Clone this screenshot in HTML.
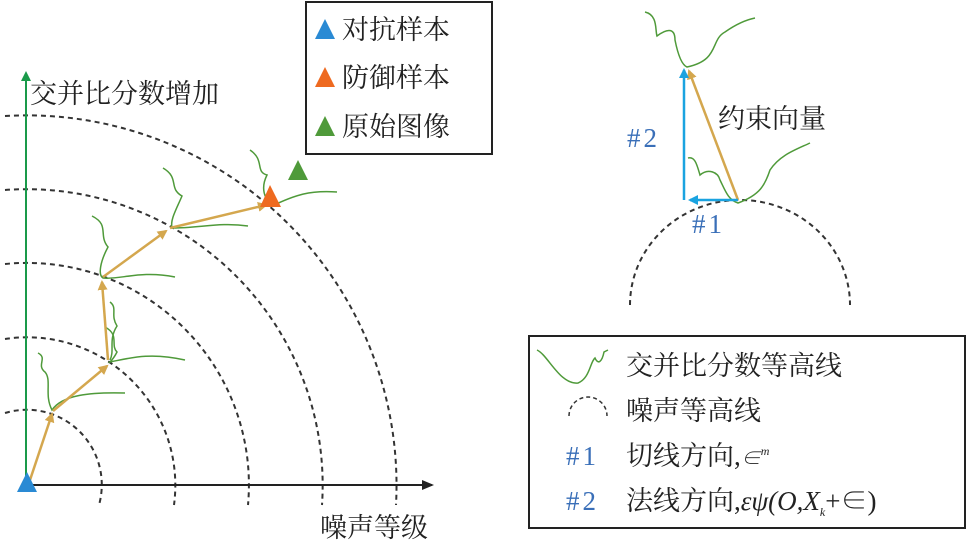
<!DOCTYPE html>
<html><head><meta charset="utf-8"><style>
html,body{margin:0;padding:0;background:#fff;}
svg{display:block;}
text{font-family:"Liberation Serif","Noto Serif CJK SC","Noto Sans CJK SC",serif;}
</style></head><body>
<svg width="971" height="546" viewBox="0 0 971 546" xmlns="http://www.w3.org/2000/svg">
<defs>
<marker id="ao" markerWidth="10" markerHeight="10" refX="8" refY="5" orient="auto" markerUnits="userSpaceOnUse"><path d="M0,0 L10,5 L0,10 z" fill="#d4a74e"/></marker>
<marker id="ab" markerWidth="10" markerHeight="10" refX="8" refY="5" orient="auto" markerUnits="userSpaceOnUse"><path d="M0,0 L10,5 L0,10 z" fill="#1aa3e0"/></marker>
<marker id="ak" markerWidth="12" markerHeight="10" refX="10" refY="5" orient="auto" markerUnits="userSpaceOnUse"><path d="M0,0 L12,5 L0,10 z" fill="#222"/></marker>
<marker id="ag" markerWidth="10" markerHeight="12" refX="5" refY="5" orient="auto" markerUnits="userSpaceOnUse"><path d="M0,0 L10,5 L0,10 z" fill="#1a9a4a"/></marker>
</defs>
<g fill="none" stroke="#333" stroke-width="2" stroke-dasharray="5,4">
<path d="M5,413 A75,75 0 0 1 99,505"/>
<path d="M5,339 A148,148 0 0 1 174,505"/>
<path d="M5,264 A222,222 0 0 1 248,505"/>
<path d="M5,190 A296,296 0 0 1 322,505"/>
<path d="M5,116 A370,370 0 0 1 396,505"/>
<path d="M630,305 A110,105 0 0 1 850,305"/>
</g>
<line x1="27" y1="485" x2="432" y2="485" stroke="#222" stroke-width="2" marker-end="url(#ak)"/>
<line x1="26" y1="485" x2="26" y2="76" stroke="#1a9a4a" stroke-width="2" marker-end="url(#ag)"/>
<g fill="none" stroke="#4f9a3a" stroke-width="1.5">
<path d="M38,353 C48,358 36,365 45,372 C52,380 44,395 52,410 C62,395 90,392 125,393"/>
<path d="M105,327 C120,335 110,345 117,352 C114,358 110,362 110,362 C130,358 150,352 185,360"/>
<path d="M110,302 C118,308 110,315 117,326 C108,340 115,350 110,360"/>
<path d="M92,216 C110,225 98,235 108,247 C100,262 98,275 103,278 C120,280 140,270 175,277"/>
<path d="M163,168 C180,178 168,188 182,196 C176,210 170,220 172,228 C200,228 220,222 248,226"/>
<path d="M250,150 C265,160 255,172 267,175 C262,185 262,196 272,206 C295,195 310,190 337,192"/>
<path d="M645,12 C658,15 655,30 657,36 C665,30 675,26 675,40 C678,55 682,65 687,67 C720,60 710,40 725,32 C735,25 745,20 755,18"/>
<path d="M688,158 C695,156 697,165 700,175 C708,168 718,172 720,180 C725,190 728,200 738,203 C760,195 765,185 770,170 C780,155 795,150 810,143"/>
</g>
<g stroke="#d4a74e" stroke-width="2.5" fill="none">
<line x1="30" y1="480" x2="52" y2="414" marker-end="url(#ao)"/>
<line x1="53" y1="411" x2="107" y2="366" marker-end="url(#ao)"/>
<line x1="108" y1="360" x2="102" y2="282" marker-end="url(#ao)"/>
<line x1="103" y1="277" x2="166" y2="231" marker-end="url(#ao)"/>
<line x1="170" y1="228" x2="266" y2="205" marker-end="url(#ao)"/>
<line x1="738" y1="200" x2="689" y2="71" marker-end="url(#ao)"/>
</g>
<g stroke="#1aa3e0" stroke-width="2.5" fill="none">
<line x1="684" y1="200" x2="684" y2="70" marker-end="url(#ab)"/>
<line x1="738" y1="200" x2="690" y2="200" marker-end="url(#ab)"/>
</g>
<polygon points="17,492 37,492 27,472" fill="#2a8ad4"/>
<polygon points="260,207 281,207 270,185" fill="#ee6a20"/>
<polygon points="288,180 308,180 298,160" fill="#4f9a3a"/>
<text x="30" y="103" font-size="27" fill="#222">交并比分数增加</text>
<text x="320" y="537" font-size="27" fill="#222">噪声等级</text>
<text x="718" y="128" font-size="27" fill="#222">约束向量</text>
<text x="627" y="147" font-size="27" fill="#3a6fb8">#<tspan dx="3">2</tspan></text>
<text x="692" y="233" font-size="27" fill="#3a6fb8">#<tspan dx="3">1</tspan></text>
<rect x="306" y="2" width="186" height="152" fill="#fff" stroke="#222" stroke-width="2"/>
<polygon points="315,39 335,39 325,19" fill="#2a8ad4"/>
<polygon points="315,87 335,87 325,67" fill="#ee6a20"/>
<polygon points="315,136 335,136 325,116" fill="#4f9a3a"/>
<text x="342" y="39" font-size="27" fill="#222">对抗样本</text>
<text x="342" y="87" font-size="27" fill="#222">防御样本</text>
<text x="342" y="136" font-size="27" fill="#222">原始图像</text>
<rect x="529" y="336" width="436" height="192" fill="#fff" stroke="#222" stroke-width="2"/>
<path d="M537,350 C548,355 560,385 578,383 C590,378 590,362 595,358 C598,365 602,362 604,352 L608,350" fill="none" stroke="#4f9a3a" stroke-width="1.5"/>
<path d="M569,416 A19,19 0 0 1 607,416" fill="none" stroke="#333" stroke-width="1.5" stroke-dasharray="4,3"/>
<text x="626" y="375" font-size="27" fill="#222">交并比分数等高线</text>
<text x="626" y="420" font-size="27" fill="#222">噪声等高线</text>
<text x="566" y="465" font-size="27" fill="#3a6fb8">#<tspan dx="3">1</tspan></text>
<text x="626" y="465" font-size="27" fill="#222">切线方向,<tspan font-size="20" font-style="italic">∈</tspan><tspan font-size="12" font-style="italic" dy="-10">m</tspan></text>
<text x="566" y="510" font-size="27" fill="#3a6fb8">#<tspan dx="3">2</tspan></text>
<text x="626" y="510" font-size="27" fill="#222">法线方向,<tspan font-style="italic">εψ(O,X</tspan><tspan font-size="12" font-style="italic" dy="6">k</tspan><tspan dy="-6">+∈)</tspan></text>
</svg>
</body></html>
